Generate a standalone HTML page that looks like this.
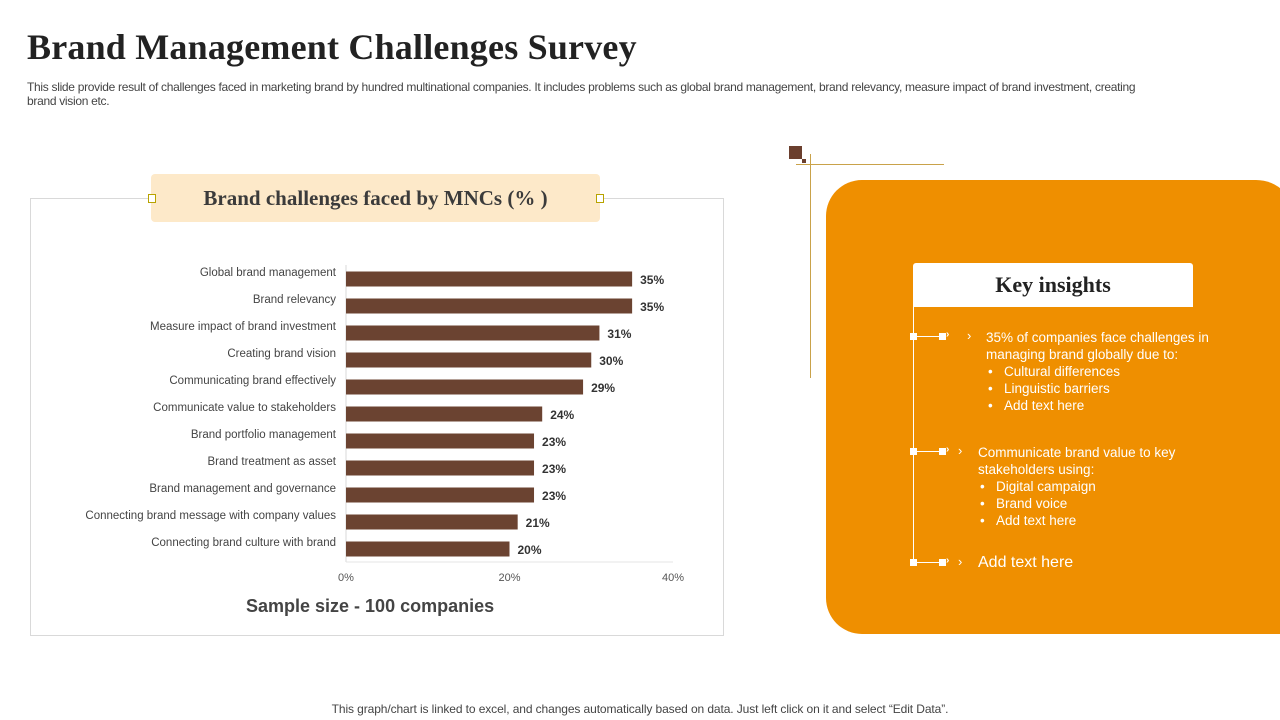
<!DOCTYPE html>
<html><head><meta charset="utf-8">
<style>
body{margin:0;width:1280px;height:720px;background:#fff;position:relative;overflow:hidden;font-family:"Liberation Sans",sans-serif}
.abs{position:absolute}
</style></head><body>
<div class="abs" style="left:27px;top:26px;font-family:'Liberation Serif',serif;font-weight:bold;font-size:36px;color:#222;letter-spacing:0.2px">Brand Management Challenges Survey</div>
<div class="abs" style="left:27px;top:80px;width:1180px;font-size:12px;line-height:14px;color:#444;letter-spacing:-0.3px">This slide provide result of challenges faced in marketing brand by hundred multinational companies. It includes problems such as global brand management, brand relevancy, measure impact of brand investment, creating <br>brand vision etc.</div>

<div class="abs" style="left:30px;top:198px;width:692px;height:436px;border:1px solid #d9d9d9"></div>
<div class="abs" style="left:151px;top:174px;width:449px;height:48px;background:#fde9c9;border-radius:4px;text-align:center;line-height:48px;font-family:'Liberation Serif',serif;font-weight:bold;font-size:21px;color:#3b3b3b">Brand challenges faced by MNCs (% )</div>
<div class="abs" style="left:148px;top:194px;width:6px;height:7px;border:1px solid #b8a300;background:#fff"></div>
<div class="abs" style="left:596px;top:194px;width:6px;height:7px;border:1px solid #b8a300;background:#fff"></div>

<svg class="abs" style="left:0;top:0" width="1280" height="720" id="chart"></svg>
<div class="abs" style="left:246px;top:596px;font-size:18px;font-weight:bold;color:#444">Sample size - 100 companies</div>

<div class="abs" style="left:789px;top:146px;width:13px;height:13px;background:#6b3f2e"></div>
<div class="abs" style="left:802px;top:159px;width:4px;height:4px;background:#6b3f2e"></div>
<div class="abs" style="left:796px;top:164px;width:148px;height:1px;background:#c9a24a"></div>
<div class="abs" style="left:810px;top:154px;width:1px;height:224px;background:#c9a24a"></div>

<div class="abs" style="left:826px;top:180px;width:470px;height:454px;background:#ef8f00;border-radius:36px 40px 0 36px"></div>
<div class="abs" style="left:913px;top:263px;width:280px;height:44px;background:#fff;border-radius:3px 3px 0 0;text-align:center;line-height:44px;font-family:'Liberation Serif',serif;font-weight:bold;font-size:22px;color:#222">Key insights</div>
<div class="abs" style="left:913px;top:307px;width:1px;height:256px;background:#fff"></div>

<div id="tl"></div>
<div class="abs" style="left:986px;top:329px;width:250px;font-size:13.5px;line-height:17px;color:#fff">35% of companies face challenges in managing brand globally due to:
<div style="margin-left:2px">•&nbsp;&nbsp;&nbsp;Cultural differences<br>•&nbsp;&nbsp;&nbsp;Linguistic barriers<br>•&nbsp;&nbsp;&nbsp;Add text here</div></div>
<div class="abs" style="left:978px;top:444px;width:250px;font-size:13.5px;line-height:17px;color:#fff">Communicate brand value to key stakeholders using:
<div style="margin-left:2px">•&nbsp;&nbsp;&nbsp;Digital campaign<br>•&nbsp;&nbsp;&nbsp;Brand voice<br>•&nbsp;&nbsp;&nbsp;Add text here</div></div>
<div class="abs" style="left:978px;top:554px;font-size:16px;color:#fff">Add text here</div>

<div class="abs" style="left:0;width:1280px;top:702px;text-align:center;font-size:12px;color:#444;letter-spacing:-0.1px">This graph/chart is linked to excel,  and changes automatically based on data. Just left click on it and select “Edit Data”.</div>

<script>
const categories=["Global brand management","Brand relevancy","Measure impact of brand investment ","Creating brand vision","Communicating brand effectively","Communicate value to stakeholders","Brand portfolio management","Brand treatment as asset","Brand management and governance ","Connecting brand message with company values","Connecting brand culture with brand"];
const values=[35,35,31,30,29,24,23,23,23,21,20];
const ticks=[0,20,40];
const NS="http://www.w3.org/2000/svg";
const svg=document.getElementById('chart');
const x=v=>346+v*(673-346)/40;
const y=i=>279+i*27;
function mk(t,a){const e=document.createElementNS(NS,t);for(const k in a)e.setAttribute(k,a[k]);svg.appendChild(e);return e;}
const ax=mk('line',{x1:346,x2:346,y1:265,y2:562,stroke:'#d9d9d9'});


const bx=mk('line',{x1:346,x2:673,y1:562,y2:562,stroke:'#e5e5e5'});


ticks.forEach(t=>{const e=mk('text',{x:x(t),y:581,'text-anchor':'middle','font-size':11,fill:'#555','font-family':'Liberation Sans'});e.textContent=t+'%';

});
categories.forEach((c,i)=>{
const r=mk('rect',{x:346,y:y(i)-7.5,width:x(values[i])-346,height:15,fill:'#6b4331'});


const l=mk('text',{x:336,y:y(i)-3,'text-anchor':'end','font-size':11.5,fill:'#444','font-family':'Liberation Sans'});l.textContent=c;


const v=mk('text',{x:x(values[i])+8,y:y(i)+5,'font-size':12,'font-weight':'bold',fill:'#333','font-family':'Liberation Sans'});v.textContent=values[i]+'%';


});
const tl=document.getElementById('tl');
[337,452,563].forEach(yy=>{
const d=document.createElement('div');d.className='abs';


d.style.cssText=`left:910px;top:${yy-4}px;width:70px;height:8px`;
d.innerHTML=`<div class="abs" style="left:0;top:0;width:7px;height:7px;background:#fff"></div><div class="abs" style="left:6px;top:3px;width:24px;height:1px;background:#fff"></div><div class="abs" style="left:29px;top:0;width:7px;height:7px;background:#fff"></div><div class="abs" style="left:36px;top:-4px;color:#fff;font-size:10px;font-weight:bold">›</div><div class="abs" style="left:${yy==337?57:48}px;top:-5px;color:#fff;font-size:13px">›</div>`;
tl.appendChild(d);});
</script>
</body></html>
